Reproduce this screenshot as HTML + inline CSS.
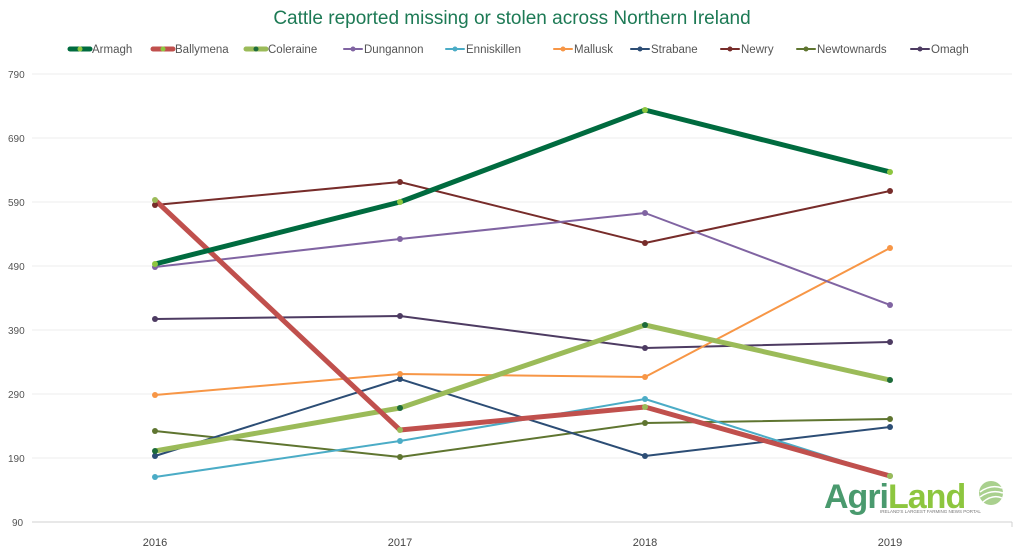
<!DOCTYPE html>
<html><head><meta charset="utf-8"><style>
body{margin:0;background:#fff;width:1024px;height:555px;overflow:hidden;font-family:"Liberation Sans",sans-serif}
</style></head><body>
<svg width="1024" height="555" xmlns="http://www.w3.org/2000/svg" font-family="Liberation Sans, sans-serif">
<text x="512" y="24" text-anchor="middle" font-size="19" fill="#1d7a55">Cattle reported missing or stolen across Northern Ireland</text>
<g font-size="11.5" fill="#555">
<g stroke-linecap="round">
<line x1="70" y1="49" x2="90" y2="49" stroke="#006b3f" stroke-width="5"/><circle cx="80" cy="49" r="2.5" fill="#8dc63f"/><text x="92" y="53">Armagh</text>
<line x1="153" y1="49" x2="173" y2="49" stroke="#c0504d" stroke-width="5"/><circle cx="163" cy="49" r="2.5" fill="#8dc63f"/><text x="175" y="53">Ballymena</text>
<line x1="246" y1="49" x2="266" y2="49" stroke="#9bbb59" stroke-width="5"/><circle cx="256" cy="49" r="2.5" fill="#1d6b3a"/><text x="268" y="53">Coleraine</text>
<line x1="344" y1="49" x2="362" y2="49" stroke="#8064a2" stroke-width="2"/><circle cx="353" cy="49" r="2.5" fill="#8064a2"/><text x="364" y="53">Dungannon</text>
<line x1="446" y1="49" x2="464" y2="49" stroke="#4bacc6" stroke-width="2"/><circle cx="455" cy="49" r="2.5" fill="#4bacc6"/><text x="466" y="53">Enniskillen</text>
<line x1="554" y1="49" x2="572" y2="49" stroke="#f79646" stroke-width="2"/><circle cx="563" cy="49" r="2.5" fill="#f79646"/><text x="574" y="53">Mallusk</text>
<line x1="631" y1="49" x2="649" y2="49" stroke="#2c4d75" stroke-width="2"/><circle cx="640" cy="49" r="2.5" fill="#2c4d75"/><text x="651" y="53">Strabane</text>
<line x1="721" y1="49" x2="739" y2="49" stroke="#772c2a" stroke-width="2"/><circle cx="730" cy="49" r="2.5" fill="#772c2a"/><text x="741" y="53">Newry</text>
<line x1="797" y1="49" x2="815" y2="49" stroke="#5f7530" stroke-width="2"/><circle cx="806" cy="49" r="2.5" fill="#5f7530"/><text x="817" y="53">Newtownards</text>
<line x1="911" y1="49" x2="929" y2="49" stroke="#4d3b62" stroke-width="2"/><circle cx="920" cy="49" r="2.5" fill="#4d3b62"/><text x="931" y="53">Omagh</text>
</g></g>
<g stroke="#ececec" stroke-width="1">
<line x1="32" y1="74" x2="1012" y2="74"/><line x1="32" y1="138" x2="1012" y2="138"/><line x1="32" y1="202" x2="1012" y2="202"/><line x1="32" y1="266" x2="1012" y2="266"/><line x1="32" y1="330" x2="1012" y2="330"/><line x1="32" y1="394" x2="1012" y2="394"/><line x1="32" y1="458" x2="1012" y2="458"/>
</g>
<line x1="32" y1="522" x2="1012" y2="522" stroke="#d0d0d0"/><line x1="1012" y1="522" x2="1012" y2="527" stroke="#d0d0d0"/>
<g font-size="10" fill="#555">
<text x="8" y="78">790</text><text x="8" y="142">690</text><text x="8" y="206">590</text><text x="8" y="270">490</text><text x="8" y="334">390</text><text x="8" y="398">290</text><text x="8" y="462">190</text><text x="12" y="526">90</text>
</g>
<g font-size="11" fill="#444" text-anchor="middle">
<text x="155" y="546">2016</text><text x="400" y="546">2017</text><text x="645" y="546">2018</text><text x="890" y="546">2019</text>
</g>
<g fill="none" stroke-linejoin="round">
<polyline points="155,319 400,316 645,348 890,342" stroke="#4d3b62" stroke-width="2"/>
<polyline points="155,431 400,457 645,423 890,419" stroke="#5f7530" stroke-width="2"/>
<polyline points="155,205 400,182 645,243 890,191" stroke="#772c2a" stroke-width="2"/>
<polyline points="155,456 400,379 645,456 890,427" stroke="#2c4d75" stroke-width="2"/>
<polyline points="155,395 400,374 645,377 890,248" stroke="#f79646" stroke-width="2"/>
<polyline points="155,477 400,441 645,399 890,476" stroke="#4bacc6" stroke-width="2"/>
<polyline points="155,267 400,239 645,213 890,305" stroke="#8064a2" stroke-width="2"/>
<polyline points="155,451 400,408 645,325 890,380" stroke="#9bbb59" stroke-width="5"/>
<polyline points="155,200 400,430 645,407 890,476" stroke="#c0504d" stroke-width="5"/>
<polyline points="155,264 400,202 645,110 890,172" stroke="#006b3f" stroke-width="5"/>
</g>
<g>
<g fill="#4d3b62"><circle cx="155" cy="319" r="3"/><circle cx="400" cy="316" r="3"/><circle cx="645" cy="348" r="3"/><circle cx="890" cy="342" r="3"/></g>
<g fill="#5f7530"><circle cx="155" cy="431" r="3"/><circle cx="400" cy="457" r="3"/><circle cx="645" cy="423" r="3"/><circle cx="890" cy="419" r="3"/></g>
<g fill="#772c2a"><circle cx="155" cy="205" r="3"/><circle cx="400" cy="182" r="3"/><circle cx="645" cy="243" r="3"/><circle cx="890" cy="191" r="3"/></g>
<g fill="#2c4d75"><circle cx="155" cy="456" r="3"/><circle cx="400" cy="379" r="3"/><circle cx="645" cy="456" r="3"/><circle cx="890" cy="427" r="3"/></g>
<g fill="#f79646"><circle cx="155" cy="395" r="3"/><circle cx="400" cy="374" r="3"/><circle cx="645" cy="377" r="3"/><circle cx="890" cy="248" r="3"/></g>
<g fill="#4bacc6"><circle cx="155" cy="477" r="3"/><circle cx="400" cy="441" r="3"/><circle cx="645" cy="399" r="3"/><circle cx="890" cy="476" r="3"/></g>
<g fill="#8064a2"><circle cx="155" cy="267" r="3"/><circle cx="400" cy="239" r="3"/><circle cx="645" cy="213" r="3"/><circle cx="890" cy="305" r="3"/></g>
<g fill="#1d6b3a"><circle cx="155" cy="451" r="3"/><circle cx="400" cy="408" r="3"/><circle cx="645" cy="325" r="3"/><circle cx="890" cy="380" r="3"/></g>
<g fill="#9bbb59"><circle cx="155" cy="200" r="3"/><circle cx="400" cy="430" r="3"/><circle cx="645" cy="407" r="3"/><circle cx="890" cy="476" r="3"/></g>
<g fill="#8dc63f"><circle cx="155" cy="264" r="3"/><circle cx="400" cy="202" r="3"/><circle cx="645" cy="110" r="3"/><circle cx="890" cy="172" r="3"/></g>
</g>
<text x="824" y="508" font-size="34" font-weight="bold" fill="#4a9a6e" letter-spacing="-1">Agri<tspan fill="#8dc63f">Land</tspan></text>
<text x="880" y="513" font-size="4.5" fill="#777">IRELAND'S LARGEST FARMING NEWS PORTAL</text>
<circle cx="991" cy="493" r="12" fill="#a9d08e"/>
<path d="M980 492 Q991 484 1002 488 M980 497 Q991 489 1003 493 M983 502 Q993 494 1002 498" stroke="#fff" stroke-width="1.5" fill="none"/>
</svg>
</body></html>
